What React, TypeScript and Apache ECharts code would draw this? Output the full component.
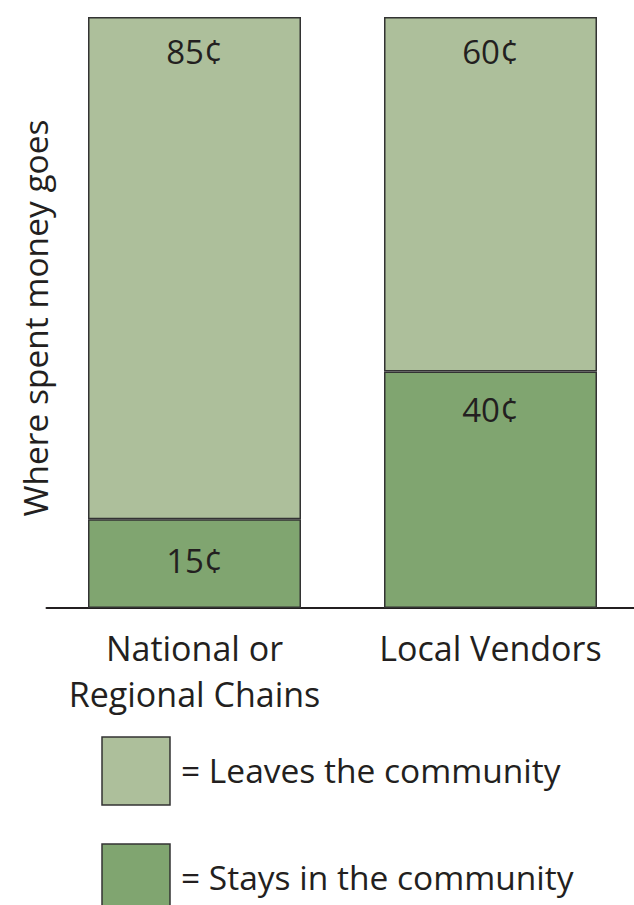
import React, { useEffect, useRef } from "react";
import * as echarts from "echarts";

const categories = ["National or\nRegional Chains", "Local Vendors"];
const staysValues = [15, 40];
const leavesValues = [85, 60];
const seriesNames = ["Leaves the community", "Stays in the community"];
const yAxisTitle = "Where spent money goes";

const FONT = "'Open Sans', 'Noto Sans', sans-serif";
const LIGHT = "#adbf9b";
const DARK = "#80a570";
const BORDER = "#333333";
const TEXT = "#231f20";

export default function App() {
  const ref = useRef<HTMLDivElement>(null);
  useEffect(() => {
    if (!ref.current) return;
    const chart = echarts.init(ref.current, null, { renderer: "svg" });
    const labelBase = {
      show: true,
      fontFamily: FONT,
      fontSize: 33,
      color: TEXT,
      formatter: (p: any) => p.value + "¢",
    };
    const legendColors = [LIGHT, DARK];
    const legendTops = [737, 844];
    const legendGraphics: any[] = [];
    seriesNames.forEach((n, i) => {
      legendGraphics.push({
        type: "rect",
        shape: { x: 102, y: legendTops[i], width: 68, height: 68 },
        style: { fill: legendColors[i], stroke: BORDER, lineWidth: 1.5 },
      });
      legendGraphics.push({
        type: "text",
        x: 181,
        y: legendTops[i] + 33,
        style: {
          text: "= " + n,
          fontFamily: FONT,
          fontSize: 33.5,
          fill: TEXT,
          textAlign: "left",
          textVerticalAlign: "middle",
        },
      });
    });
    chart.setOption({
      animation: false,
      backgroundColor: "#ffffff",
      grid: { left: 46.5, width: 592, top: 17, bottom: 297, outerBoundsMode: "none", containLabel: false },
      xAxis: {
        type: "category",
        data: categories,
        axisLine: { show: true, lineStyle: { color: TEXT, width: 2 } },
        axisTick: { show: false },
        axisLabel: {
          interval: 0,
          fontFamily: FONT,
          fontSize: 34,
          color: TEXT,
          margin: 17,
          lineHeight: 46,
        },
      },
      yAxis: {
        type: "value",
        min: 0,
        max: 100,
        show: false,
      },
      graphic: [
        {
          type: "text",
          x: 35,
          y: 318,
          rotation: Math.PI / 2,
          style: {
            text: yAxisTitle,
            fontFamily: FONT,
            fontSize: 33.5,
            fill: TEXT,
            textAlign: "center",
            textVerticalAlign: "middle",
          },
        },
        ...legendGraphics,
      ],
      series: [
        {
          name: seriesNames[1],
          type: "bar",
          stack: "total",
          barWidth: 213,
          data: staysValues.map((v, i) => ({
            value: v,
            label:
              i === 0
                ? { position: "inside", offset: [0, -3] }
                : { position: "insideTop", distance: 21 },
          })),
          itemStyle: { color: DARK, borderColor: BORDER, borderWidth: 1.5 },
          label: labelBase,
        },
        {
          name: seriesNames[0],
          type: "bar",
          stack: "total",
          barWidth: 213,
          data: leavesValues,
          itemStyle: { color: LIGHT, borderColor: BORDER, borderWidth: 1.5 },
          label: { ...labelBase, position: "insideTop", distance: 18 },
        },
      ],
    });
    return () => chart.dispose();
  }, []);
  return (
    <div
      ref={ref}
      style={{ position: "absolute", left: 0, top: 0, width: 634, height: 905 }}
    />
  );
}
